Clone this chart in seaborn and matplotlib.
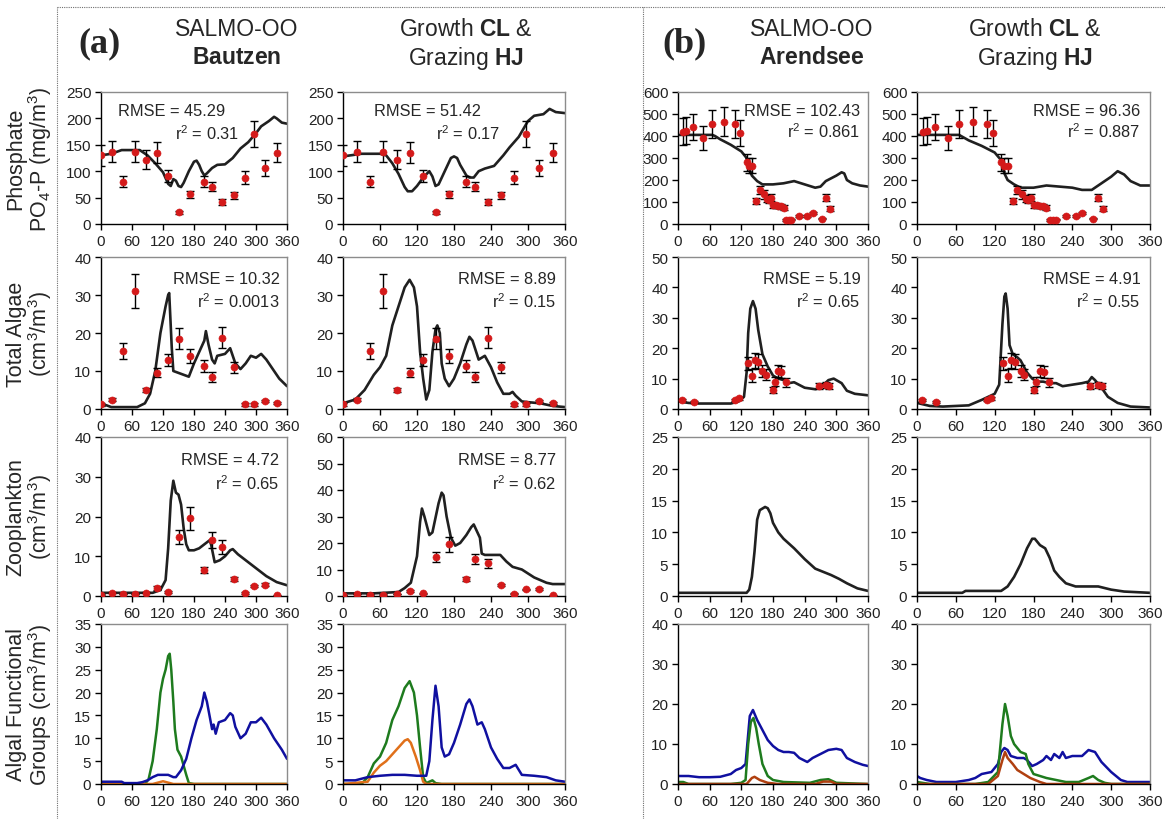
import numpy as np
import pandas as pd
import matplotlib
matplotlib.use("Agg")
import matplotlib.pyplot as plt
import seaborn as sns
from matplotlib.lines import Line2D

# ---------------- data ----------------
days = [0, 60, 120, 180, 240, 300, 360]

# Bautzen observations (same for both model variants)
bz_obs_day = [0, 22, 43, 65, 87, 108, 130, 150, 172, 200, 214, 235, 257, 278, 296, 318, 340]
bz_po4_obs = [130, 137, 80, 137, 122, 135, 91, 22, 56, 80, 71, 42, 54, 88, 170, 106, 135]
bz_po4_err = [20, 20, 10, 20, 18, 20, 12, 3, 7, 10, 8, 6, 6, 12, 25, 15, 18]
bz_alg_obs = [1.2, 2.5, 15.3, 31, 5, 9.5, 13, 18.5, 14, 11.3, 8.5, 18.8, 11, 1.2, 1.2, 2.2, 1.6]
bz_alg_err = [0.3, 0.3, 2.2, 4.5, 0.5, 1.2, 1.6, 2.8, 1.8, 1.6, 1.3, 2.8, 1.5, 0.3, 0.3, 0.3, 0.3]
bz_zoo_obs = [0.3, 0.8, 0.5, 0.5, 0.8, 2.0, 1.0, 14.8, 19.5, 6.5, 14, 12.3, 4.2, 0.8, 2.5, 2.8, 0.2]
bz_zoo_err = [0.1, 0.1, 0.1, 0.1, 0.1, 0.4, 0.2, 1.8, 2.8, 0.8, 2.0, 1.8, 0.5, 0.2, 0.3, 0.4, 0.1]

# Arendsee observations
ar_po4_day = [10, 15, 28, 48, 65, 87, 108, 117, 130, 135, 140, 148, 155, 163, 168, 172, 176,
              180, 185, 190, 195, 200, 205, 210, 215, 230, 245, 255, 272, 280, 288]
ar_po4_obs = [420, 425, 440, 390, 455, 465, 455, 415, 280, 265, 265, 105, 155, 135, 115, 110, 120,
              85, 85, 82, 80, 75, 18, 20, 20, 35, 38, 50, 25, 120, 70]
ar_po4_err = [60, 60, 60, 55, 65, 65, 65, 60, 40, 35, 35, 15, 20, 20, 15, 15, 15,
              10, 10, 10, 10, 10, 4, 4, 4, 5, 5, 6, 4, 15, 10]
ar_alg_day = [8, 30, 108, 115, 133, 140, 146, 152, 160, 166, 180, 184, 190, 196, 204, 268, 280, 286]
ar_alg_obs = [3, 2.2, 3, 3.5, 15, 11, 16, 15.5, 12.5, 11.3, 6.2, 9, 12.5, 12.2, 8.8, 7.5, 8, 7.5]
ar_alg_err = [0.4, 0.3, 0.4, 0.4, 2.2, 2, 2.5, 2.5, 2, 1.8, 1, 1.5, 2, 2, 1.5, 1, 1, 1]

# simulated curves: Bautzen, SALMO-OO
bz_po4_s_x = [0, 20, 40, 75, 90, 105, 120, 130, 135, 140, 145, 150, 155, 160, 170, 180, 185, 190, 195,
              200, 205, 215, 225, 240, 255, 270, 285, 300, 310, 325, 335, 340, 350, 360]
bz_po4_s_y = [130, 133, 140, 140, 130, 115, 98, 76, 72, 85, 82, 72, 70, 78, 100, 118, 120, 112, 100,
              92, 96, 106, 112, 113, 125, 143, 155, 172, 185, 195, 203, 200, 192, 190]
bz_alg_s_x = [0, 10, 20, 70, 85, 95, 105, 115, 125, 130, 132, 137, 140, 150, 160, 170, 180, 190, 200,
              203, 208, 215, 220, 225, 240, 250, 255, 260, 270, 280, 290, 300, 310, 320, 330, 345, 360]
bz_alg_s_y = [1, 1, 0.5, 0.5, 1.5, 4, 10, 20, 27, 30, 30.5, 16, 10, 9.5, 9, 8.5, 12, 15, 18,
              20.5, 17, 13, 12, 14, 14.5, 16, 14, 12, 10.5, 12, 14, 13.5, 14.5, 13, 11, 8, 6]
bz_zoo_s_x = [0, 100, 115, 125, 130, 135, 140, 145, 150, 155, 160, 165, 170, 180, 190, 200, 210, 213,
              220, 230, 240, 250, 255, 265, 280, 300, 320, 340, 360]
bz_zoo_s_y = [0.8, 0.8, 1.5, 4, 12, 24, 29, 26, 25.5, 23, 17, 13, 11.5, 11.5, 12, 13, 14, 13,
              8.5, 9, 10, 11.5, 11.8, 10.5, 9, 7, 5, 3.5, 2.7]

# simulated curves: Bautzen, Growth CL & Grazing HJ
bz_po4_h_x = [0, 30, 60, 70, 80, 90, 100, 105, 112, 120, 130, 140, 145, 150, 155, 165, 175, 180, 185,
              190, 200, 205, 212, 220, 230, 245, 260, 270, 285, 300, 310, 325, 335, 345, 360]
bz_po4_h_y = [128, 133, 133, 130, 115, 95, 70, 62, 62, 72, 88, 100, 90, 72, 75, 100, 125, 128, 125,
              112, 92, 88, 88, 100, 105, 110, 130, 145, 165, 195, 205, 208, 218, 212, 210]
bz_alg_h_x = [0, 20, 35, 50, 60, 70, 80, 90, 100, 108, 115, 120, 125, 130, 135, 140, 145, 150, 153,
              157, 160, 165, 172, 180, 190, 200, 205, 210, 220, 230, 240, 250, 260, 270, 275, 280,
              290, 300, 320, 340, 360]
bz_alg_h_y = [1.5, 2.5, 5, 9, 11, 14, 22, 27, 32, 34, 32, 27, 15, 8, 2.5, 5, 15, 21, 22,
              20, 12, 8, 6, 8, 12, 17, 19, 18, 13, 14, 11, 7, 4, 4, 4.5, 3.5,
              2, 1.8, 1.5, 0.8, 0.5]
bz_zoo_h_x = [0, 50, 90, 100, 110, 120, 125, 128, 132, 140, 145, 155, 160, 163, 168, 175, 182, 190,
              200, 208, 212, 218, 222, 225, 230, 255, 265, 275, 290, 310, 330, 340, 360]
bz_zoo_h_y = [1, 1, 1.5, 3, 5, 15, 28, 33, 30, 23, 24, 35, 39, 38, 30, 22, 19, 20,
              23, 26, 27, 24, 22, 16, 15.5, 15.5, 13, 11, 10, 7, 5, 4.5, 4.5]

# simulated curves: Arendsee, SALMO-OO
ar_po4_s_x = [0, 65, 70, 80, 100, 120, 130, 135, 140, 150, 160, 180, 200, 220, 240, 260, 270, 280,
              300, 310, 315, 320, 330, 345, 360]
ar_po4_s_y = [405, 405, 400, 385, 360, 330, 300, 250, 220, 195, 180, 180, 185, 195, 180, 165, 170, 195,
              220, 235, 230, 200, 185, 175, 170]
ar_alg_s_x = [0, 20, 40, 100, 115, 125, 130, 133, 137, 142, 147, 152, 160, 170, 180, 190, 200, 210,
              220, 240, 260, 270, 285, 295, 310, 320, 335, 360]
ar_alg_s_y = [2.5, 2, 1.8, 1.8, 2.5, 4, 12, 25, 33, 35.5, 33, 26, 18, 14, 11, 10, 9.5, 8.5,
              8.8, 7, 6.5, 7, 9.5, 10, 8.5, 6, 5, 4.5]
ar_zoo_s_x = [0, 130, 135, 140, 145, 150, 155, 165, 170, 175, 180, 190, 200, 220, 240, 260, 275, 290,
              305, 320, 340, 360]
ar_zoo_s_y = [0.5, 0.5, 1, 3, 7, 12, 13.5, 14, 13.8, 13, 11.5, 10, 9, 7.5, 5.8, 4.3, 3.8, 3.3,
              2.7, 2, 1.2, 0.8]

# simulated curves: Arendsee, Growth CL & Grazing HJ
ar_po4_h_x = [0, 65, 80, 100, 120, 130, 135, 140, 150, 160, 180, 200, 220, 240, 255, 270, 280, 300,
              310, 320, 330, 345, 360]
ar_po4_h_y = [405, 405, 380, 355, 325, 290, 230, 200, 180, 165, 165, 175, 170, 165, 155, 155, 175, 215,
              240, 225, 195, 175, 175]
ar_alg_h_x = [0, 20, 40, 80, 100, 110, 120, 127, 132, 135, 137, 140, 143, 148, 155, 160, 165, 170,
              178, 185, 195, 205, 215, 225, 240, 255, 265, 270, 275, 285, 295, 310, 330, 360]
ar_alg_h_y = [2, 1, 0.8, 1.2, 3, 4, 5, 8, 28, 37, 38, 33, 21, 18, 17, 16, 14, 12,
              10, 9, 9, 8.5, 8.5, 7.5, 8, 8.5, 9, 10.5, 9.5, 7, 4, 2, 0.8, 0.5]
ar_zoo_h_x = [0, 70, 75, 130, 140, 150, 160, 170, 178, 182, 190, 198, 205, 212, 220, 230, 245, 280,
              300, 320, 360]
ar_zoo_h_y = [0.5, 0.5, 0.8, 0.8, 1.5, 3, 5, 7.5, 9, 9, 8, 7.5, 6, 4, 3, 2, 1.5, 1.5,
              1, 0.7, 0.5]

# algal functional groups (green, orange, blue)
bz_grp_s = {
    "green": ([0, 85, 92, 100, 108, 115, 120, 125, 130, 133, 136, 140, 143, 148, 155, 160, 165, 170, 180, 360],
              [0, 0, 1, 5, 12, 20, 23, 25, 28, 28.5, 25, 18, 12, 7.5, 6, 4, 2, 0.2, 0, 0]),
    "orange": ([0, 100, 110, 120, 130, 140, 360], [0, 0, 0.3, 0.6, 0.3, 0, 0]),
    "blue": ([0, 40, 45, 70, 80, 90, 100, 110, 130, 140, 145, 155, 165, 175, 185, 195, 200, 205, 210, 215,
              218, 222, 228, 240, 250, 255, 260, 270, 280, 290, 300, 310, 320, 335, 350, 360],
             [0.5, 0.5, 0.2, 0.2, 0.4, 0.8, 1.5, 2, 2, 1.5, 1.5, 3, 5.5, 10, 14, 17, 20, 18, 15, 12,
              13, 11, 13.5, 14, 15.5, 15, 12.5, 10, 11, 13.5, 13.5, 14.5, 13, 10, 7.5, 5.5]),
}
bz_grp_h = {
    "green": ([0, 30, 40, 50, 60, 70, 80, 90, 100, 108, 115, 120, 125, 130, 135, 140, 145, 150, 160, 360],
              [0, 0, 1.5, 4.5, 6, 9, 14, 17, 21, 22.5, 20, 15, 8, 1.5, 0.2, 0.5, 0.8, 0.2, 0, 0]),
    "orange": ([0, 40, 50, 60, 70, 80, 90, 100, 105, 110, 118, 125, 130, 135, 360],
               [0, 0.5, 2.5, 4, 5, 6.5, 8, 9.5, 9.8, 9, 6, 3, 0.5, 0, 0]),
    "blue": ([0, 20, 40, 60, 80, 100, 120, 135, 140, 145, 150, 155, 160, 165, 172, 180, 190, 200, 205,
              210, 218, 225, 230, 240, 250, 260, 270, 280, 290, 310, 330, 345, 360],
             [0.8, 0.8, 1.5, 1.8, 2, 2, 1.8, 1.8, 5, 14, 21.5, 17, 8, 6, 6.5, 9, 13, 17.5, 18.5,
              17, 13, 13.5, 12, 8, 5.5, 3.5, 3.5, 4.2, 2, 1.8, 1.5, 0.8, 0.5]),
}
ar_grp_s = {
    "blue": ([0, 20, 40, 60, 80, 100, 110, 120, 128, 132, 136, 142, 150, 160, 170, 180, 190, 200, 210,
              220, 230, 245, 255, 270, 285, 300, 310, 320, 335, 350, 360],
             [2, 2, 1.7, 1.7, 1.8, 2.5, 3.5, 4, 5, 11, 17, 18.5, 16, 13.5, 11, 9.5, 8.5, 8, 8,
              7.8, 6.5, 5.5, 6.5, 7.5, 8.5, 8.8, 8.5, 6.5, 5.5, 4.8, 4.5]),
    "green": ([0, 10, 20, 100, 120, 128, 133, 138, 143, 148, 153, 160, 170, 180, 200, 250, 270, 285, 300, 360],
              [0.5, 0.5, 0, 0, 0.3, 1, 10, 15.5, 16.5, 14, 10, 5, 2, 1, 0.5, 0.3, 1, 1.2, 0.3, 0]),
    "orange": ([0, 130, 140, 145, 155, 170, 190, 260, 275, 290, 300, 360],
               [0, 0, 1.5, 1.8, 1, 0.3, 0, 0, 0.6, 0.6, 0, 0]),
}
ar_grp_h = {
    "blue": ([0, 5, 15, 30, 60, 80, 90, 100, 115, 125, 130, 135, 140, 145, 155, 165, 170, 178, 185, 195,
              200, 207, 212, 220, 225, 230, 240, 255, 265, 275, 285, 300, 315, 325, 360],
             [2, 1.5, 1, 0.5, 0.5, 1, 1.5, 2.5, 3, 5, 8, 9, 8.5, 7, 6.5, 6.5, 6, 4.5, 5, 6,
              7, 6, 7.5, 6.5, 8, 6.5, 7, 7, 8.5, 8, 5.5, 3, 1, 0.5, 0.5]),
    "green": ([0, 20, 90, 110, 125, 132, 136, 140, 145, 150, 160, 168, 172, 180, 200, 230, 250, 265, 272,
               280, 290, 300, 360],
              [0.5, 0, 0, 0.5, 3, 15, 20, 17, 12, 10, 8, 7.5, 5, 2.5, 1.5, 0.5, 0.5, 1.5, 2,
               1, 0.3, 0, 0]),
    "orange": ([0, 110, 125, 132, 136, 140, 148, 155, 165, 175, 190, 200, 360],
               [0, 0, 2, 6, 8, 6.5, 5, 3.5, 2.5, 1.5, 0.5, 0, 0]),
}

fit_text = {
    (0, 0): ("RMSE = 45.29", "r$^2$ = 0.31"), (0, 1): ("RMSE = 51.42", "r$^2$ = 0.17"),
    (0, 2): ("RMSE = 102.43", "r$^2$ = 0.861"), (0, 3): ("RMSE = 96.36", "r$^2$ = 0.887"),
    (1, 0): ("RMSE = 10.32", "r$^2$ = 0.0013"), (1, 1): ("RMSE = 8.89", "r$^2$ = 0.15"),
    (1, 2): ("RMSE = 5.19", "r$^2$ = 0.65"), (1, 3): ("RMSE = 4.91", "r$^2$ = 0.55"),
    (2, 0): ("RMSE = 4.72", "r$^2$ = 0.65"), (2, 1): ("RMSE = 8.77", "r$^2$ = 0.62"),
}

row_labels = ["Phosphate\nPO$_4$-P (mg/m$^3$)", "Total Algae\n(cm$^3$/m$^3$)",
              "Zooplankton\n(cm$^3$/m$^3$)", "Algal Functional\nGroups (cm$^3$/m$^3$)"]

# ---------------- style ----------------
sns.set_style("white")
plt.rcParams['font.family'] = ['Liberation Sans', 'DejaVu Sans']
plt.rcParams['mathtext.fontset'] = 'custom'
plt.rcParams['mathtext.rm'] = 'Liberation Sans'
plt.rcParams['mathtext.bf'] = 'Liberation Sans:bold'
plt.rcParams['mathtext.it'] = 'Liberation Sans:italic'

W, H = 1165, 820
fig = plt.figure(figsize=(W / 100, H / 100), dpi=100)

col_px = [(101, 287), (343, 565), (678, 868), (917, 1150)]
row_px = [(93, 225), (258, 410), (438, 597), (625, 785)]

ylims = [[(0, 250, 50), (0, 250, 50), (0, 600, 100), (0, 600, 100)],
         [(0, 40, 10), (0, 40, 10), (0, 50, 10), (0, 50, 10)],
         [(0, 40, 10), (0, 60, 10), (0, 25, 5), (0, 25, 5)],
         [(0, 35, 5), (0, 35, 5), (0, 40, 10), (0, 40, 10)]]

grp_colors = {"green": "#1e7b1e", "orange": "#e0701a", "blue": "#1010a0"}
grp_colors_b = {"green": "#1e7b1e", "orange": "#b04010", "blue": "#1010a0"}
tick_font = ['Liberation Sans Narrow', 'Liberation Sans', 'DejaVu Sans']


def make_ax(r, c):
    l, rr = col_px[c]
    t, b = row_px[r]
    ax = fig.add_axes([l / W, 1 - b / H, (rr - l) / W, (b - t) / H])
    lo, hi, st = ylims[r][c]
    ax.set_xlim(0, 360)
    ax.set_ylim(lo, hi)
    ax.set_xticks(days)
    ax.set_yticks(np.arange(lo, hi + 0.1, st))
    for s in ["top", "right"]:
        ax.spines[s].set_color("#8c8c8c")
        ax.spines[s].set_linewidth(1)
    for s in ["left", "bottom"]:
        ax.spines[s].set_color("black")
        ax.spines[s].set_linewidth(1)
    ax.tick_params(direction="out", length=4, width=1, colors="black", labelsize=11, pad=3,
                   left=True, bottom=True)
    ax.tick_params(labelcolor="#222222")
    for lab in ax.get_xticklabels() + ax.get_yticklabels():
        lab.set_family(tick_font)
    ax.set_xlabel("")
    ax.set_ylabel("")
    return ax


def model_line(ax, x, y, color="#202020", lw=1.9):
    sns.lineplot(x=x, y=y, ax=ax, color=color, linewidth=lw, estimator=None, sort=False,
                 legend=False)


def obs_points(ax, x, y, e):
    ax.errorbar(x, y, yerr=e, fmt="none", ecolor="black", elinewidth=1, capsize=3, capthick=1,
                zorder=3)
    sns.scatterplot(x=x, y=y, ax=ax, color="#d41a1a", s=26, edgecolor="#d41a1a", zorder=4,
                    legend=False)


axes = {}
for r in range(4):
    for c in range(4):
        axes[(r, c)] = make_ax(r, c)

# row 1 phosphate
model_line(axes[(0, 0)], bz_po4_s_x, bz_po4_s_y)
model_line(axes[(0, 1)], bz_po4_h_x, bz_po4_h_y)
model_line(axes[(0, 2)], ar_po4_s_x, ar_po4_s_y)
model_line(axes[(0, 3)], ar_po4_h_x, ar_po4_h_y)
for c in (0, 1):
    obs_points(axes[(0, c)], bz_obs_day, bz_po4_obs, bz_po4_err)
for c in (2, 3):
    obs_points(axes[(0, c)], ar_po4_day, ar_po4_obs, ar_po4_err)

# row 2 total algae
model_line(axes[(1, 0)], bz_alg_s_x, bz_alg_s_y)
model_line(axes[(1, 1)], bz_alg_h_x, bz_alg_h_y)
model_line(axes[(1, 2)], ar_alg_s_x, ar_alg_s_y)
model_line(axes[(1, 3)], ar_alg_h_x, ar_alg_h_y)
for c in (0, 1):
    obs_points(axes[(1, c)], bz_obs_day, bz_alg_obs, bz_alg_err)
for c in (2, 3):
    obs_points(axes[(1, c)], ar_alg_day, ar_alg_obs, ar_alg_err)

# row 3 zooplankton
model_line(axes[(2, 0)], bz_zoo_s_x, bz_zoo_s_y)
model_line(axes[(2, 1)], bz_zoo_h_x, bz_zoo_h_y)
model_line(axes[(2, 2)], ar_zoo_s_x, ar_zoo_s_y)
model_line(axes[(2, 3)], ar_zoo_h_x, ar_zoo_h_y)
for c in (0, 1):
    obs_points(axes[(2, c)], bz_obs_day, bz_zoo_obs, bz_zoo_err)

# row 4 functional groups
for c, grp, cols in [(0, bz_grp_s, grp_colors), (1, bz_grp_h, grp_colors),
                     (2, ar_grp_s, grp_colors_b), (3, ar_grp_h, grp_colors_b)]:
    for name, (gx, gy) in grp.items():
        model_line(axes[(3, c)], gx, gy, color=cols[name], lw=1.8)

# fit statistics
for (r, c), (t1, t2) in fit_text.items():
    ax = axes[(r, c)]
    if r == 0 and c < 2:
        x0 = 0.09 if c == 0 else 0.14
        x1 = 0.74 if c == 0 else 0.71
        ax.text(x0, 0.86, t1, transform=ax.transAxes, fontsize=11.8, ha="left", va="center")
        ax.text(x1, 0.69, t2, transform=ax.transAxes, fontsize=11.8, ha="right", va="center")
    else:
        ax.text(0.96, 0.86, t1, transform=ax.transAxes, fontsize=11.8, ha="right", va="center")
        ax.text(0.96, 0.71, t2, transform=ax.transAxes, fontsize=11.8, ha="right", va="center")

# row labels
for r, lab in enumerate(row_labels):
    t, b = row_px[r]
    fig.text(30 / W, 1 - (t + b) / 2 / H, lab, rotation=90, ha="center", va="center",
             fontsize=15.5, linespacing=1.0)

# column headers
heads = [(237, "SALMO-OO", r"$\mathbf{Bautzen}$"), (466, r"Growth $\mathbf{CL}$ &", r"Grazing $\mathbf{HJ}$"),
         (812, "SALMO-OO", r"$\mathbf{Arendsee}$"), (1035, r"Growth $\mathbf{CL}$ &", r"Grazing $\mathbf{HJ}$")]
for x, l1, l2 in heads:
    fig.text(x / W, 1 - 30 / H, l1, ha="center", va="center", fontsize=16.5)
    fig.text(x / W, 1 - 58 / H, l2, ha="center", va="center", fontsize=16.5)
for x, lab in [(100, "(a)"), (685, "(b)")]:
    fig.text(x / W, 1 - 44 / H, lab, ha="center", va="center", fontsize=26, fontweight="bold",
             family=['Liberation Serif', 'DejaVu Serif'])

# dotted frame
frame = dict(color="#707070", linewidth=0.8, linestyle=(0, (1, 1)))
fig.add_artist(Line2D([57 / W, 57 / W], [0, 1 - 8 / H], **frame))
fig.add_artist(Line2D([57 / W, 1], [1 - 8 / H, 1 - 8 / H], **frame))
fig.add_artist(Line2D([643 / W, 643 / W], [0, 1 - 8 / H], **frame))

fig.savefig("out.png", dpi=100, facecolor="white")
